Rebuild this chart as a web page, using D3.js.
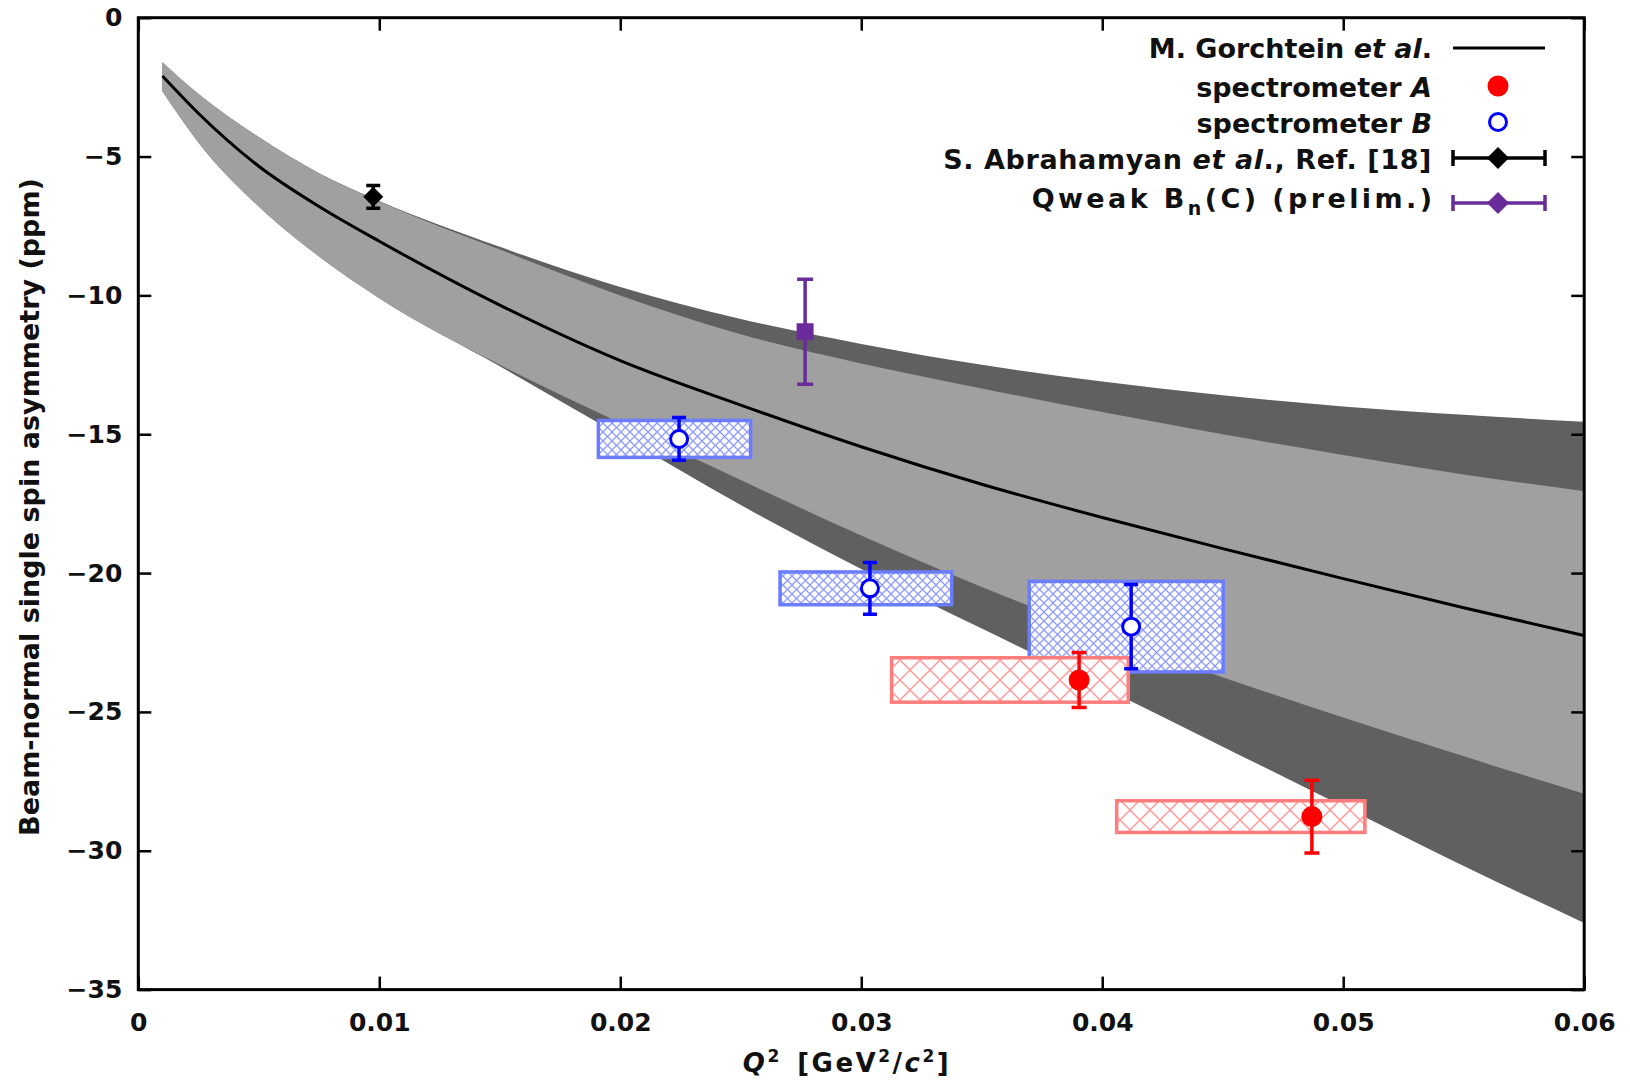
<!DOCTYPE html>
<html>
<head>
<meta charset="utf-8">
<script src="https://cdn.jsdelivr.net/npm/d3@7"></script>
<style>
  body { margin: 0; background: #fff; }
  text { font-family: "DejaVu Sans", sans-serif; font-weight: bold; fill: #111; }
</style>
</head>
<body>
<svg id="chart" width="1630" height="1082"></svg>
<script>
// ---- axis ticks ----
const xTicks = [0, 0.01, 0.02, 0.03, 0.04, 0.05, 0.06];
const yTicks = [0, -5, -10, -15, -20, -25, -30, -35];

// ---- theory prediction (central value and two uncertainty bands) ----
const thQ2        = [0.001, 0.0025, 0.005, 0.0075, 0.01, 0.015, 0.02, 0.025, 0.03, 0.035, 0.04, 0.045, 0.05, 0.055, 0.06];
const thCentral   = [-2.1, -3.45, -5.35, -6.8, -8.05, -10.35, -12.35, -13.95, -15.45, -16.8, -18.0, -19.12, -20.2, -21.25, -22.25];
const thOuterHigh = [-1.6, -2.75, -4.3, -5.6, -6.6, -8.25, -9.7, -10.85, -11.75, -12.5, -13.1, -13.6, -14.0, -14.3, -14.55];
const thInnerHigh = [-1.6, -2.75, -4.3, -5.6, -6.62, -8.35, -10.0, -11.4, -12.45, -13.35, -14.2, -15.0, -15.75, -16.45, -17.05];
const thInnerLow  = [-2.65, -4.5, -6.8, -8.6, -10.1, -12.5, -14.6, -16.65, -18.65, -20.5, -22.2, -23.75, -25.2, -26.6, -27.95];
const thOuterLow  = [-2.65, -4.5, -6.8, -8.6, -10.1, -12.55, -15.05, -17.55, -19.85, -22.0, -24.1, -26.25, -28.4, -30.55, -32.6];

// ---- spectrometer A ----
const aQ2    = [0.03904, 0.0487];
const aBn    = [-23.85, -28.77];
const aStat  = [0.99, 1.31];
const aSys   = [0.80, 0.57];
const aQ2Lo  = [0.03126, 0.0406];
const aQ2Hi  = [0.04108, 0.0509];

// ---- spectrometer B ----
const bQ2    = [0.02244, 0.03036, 0.0412];
const bBn    = [-15.17, -20.55, -21.93];
const bStat  = [0.77, 0.93, 1.52];
const bSys   = [0.665, 0.59, 1.63];
const bQ2Lo  = [0.01909, 0.02663, 0.03697];
const bQ2Hi  = [0.02541, 0.03375, 0.04502];

// ---- other measurements ----
const abrQ2 = [0.00975], abrBn = [-6.45], abrErr = [0.41];
const qwkQ2 = [0.02767], qwkBn = [-11.31], qwkErr = [1.89];

// ---- layout ----
const svg = d3.select("#chart");
const L = 138.3, R = 1584.2, T = 17.7, B = 989.6;
const x = d3.scaleLinear().domain([0, 0.06]).range([L, R]);
const y = d3.scaleLinear().domain([-35, 0]).range([B, T]);

const defs = svg.append("defs");
defs.append("clipPath").attr("id", "plotClip")
  .append("rect").attr("x", L).attr("y", T).attr("width", R - L).attr("height", B - T);

function hatch(id, size, color, width) {
  const p = defs.append("pattern").attr("id", id).attr("patternUnits", "userSpaceOnUse")
    .attr("width", size).attr("height", size);
  p.append("rect").attr("width", size).attr("height", size).attr("fill", "#fff");
  p.append("path").attr("d", `M0,0L${size},${size}M${size},0L0,${size}`)
    .attr("stroke", color).attr("stroke-width", width).attr("fill", "none");
  p.append("path").attr("d", `M${-size/2},${size/2}L${size/2},${-size/2}M${size/2},${size*1.5}L${size*1.5},${size/2}M${-size/2},${size/2}L${size/2},${size*1.5}M${size/2},${-size/2}L${size*1.5},${size/2}`)
    .attr("stroke", color).attr("stroke-width", width).attr("fill", "none");
}
hatch("hatchB", 9, "#8f9cff", 1.3);
hatch("hatchA", 20, "#ff9a9a", 1.5);

const plot = svg.append("g").attr("clip-path", "url(#plotClip)");

// uncertainty bands
const th = thQ2.map((q, i) => ({ q, c: thCentral[i], oh: thOuterHigh[i], ih: thInnerHigh[i], il: thInnerLow[i], ol: thOuterLow[i] }));
const band = (lo, hi) => d3.area().curve(d3.curveMonotoneX)
  .x(d => x(d.q)).y0(d => y(d[lo])).y1(d => y(d[hi]));
plot.append("path").datum(th).attr("d", band("ol", "oh")).attr("fill", "#606060");
plot.append("path").datum(th).attr("d", band("il", "ih")).attr("fill", "#a0a0a0");
plot.append("path").datum(th)
  .attr("d", d3.line().curve(d3.curveMonotoneX).x(d => x(d.q)).y(d => y(d.c)))
  .attr("fill", "none").attr("stroke", "#000").attr("stroke-width", 3);

// systematic boxes
const bRows = bQ2.map((q, i) => ({ q, v: bBn[i], e: bStat[i], s: bSys[i], lo: bQ2Lo[i], hi: bQ2Hi[i] }));
const aRows = aQ2.map((q, i) => ({ q, v: aBn[i], e: aStat[i], s: aSys[i], lo: aQ2Lo[i], hi: aQ2Hi[i] }));

function boxes(rows, fill, stroke) {
  plot.append("g").selectAll("rect").data(rows).join("rect")
    .attr("x", d => x(d.lo)).attr("width", d => x(d.hi) - x(d.lo))
    .attr("y", d => y(d.v + d.s)).attr("height", d => y(d.v - d.s) - y(d.v + d.s))
    .attr("fill", fill).attr("stroke", stroke).attr("stroke-width", 3.5);
}
boxes(bRows, "url(#hatchB)", "#6c7cff");
boxes(aRows, "url(#hatchA)", "#ff7d7d");

// vertical error bars with caps
function errBars(rows, color, cap, w) {
  const g = plot.append("g").attr("stroke", color).attr("stroke-width", w).attr("fill", "none");
  g.selectAll("path").data(rows).join("path")
    .attr("d", d => {
      const cx = x(d.q), y1 = y(d.v + d.e), y2 = y(d.v - d.e);
      return `M${cx},${y1}V${y2}M${cx - cap},${y1}H${cx + cap}M${cx - cap},${y2}H${cx + cap}`;
    });
}
errBars(bRows, "#0000ff", 7, 3.5);
errBars(aRows, "#ff0000", 7.5, 3.5);

const abrRows = abrQ2.map((q, i) => ({ q, v: abrBn[i], e: abrErr[i] }));
const qwkRows = qwkQ2.map((q, i) => ({ q, v: qwkBn[i], e: qwkErr[i] }));
errBars(abrRows, "#000", 7, 3.5);
errBars(qwkRows, "#6a2c9a", 8, 3.5);

// markers
plot.append("g").selectAll("circle").data(aRows).join("circle")
  .attr("cx", d => x(d.q)).attr("cy", d => y(d.v)).attr("r", 10.5).attr("fill", "#ff0000");
plot.append("g").selectAll("circle").data(bRows).join("circle")
  .attr("cx", d => x(d.q)).attr("cy", d => y(d.v)).attr("r", 8.5)
  .attr("fill", "#fff").attr("stroke", "#0000ff").attr("stroke-width", 3);
const diamond = s => `M0,${-s}L${s},0L0,${s}L${-s},0Z`;
plot.append("g").selectAll("path").data(abrRows).join("path")
  .attr("transform", d => `translate(${x(d.q)},${y(d.v)})`).attr("d", diamond(10)).attr("fill", "#000");
plot.append("g").selectAll("rect").data(qwkRows).join("rect")
  .attr("x", d => x(d.q) - 8.5).attr("y", d => y(d.v) - 8.5).attr("width", 17).attr("height", 17)
  .attr("fill", "#6a2c9a");

// ---- axes (ticks pointing inward on all four sides) ----
const fmtX = d => d === 0 ? "0" : d3.format(".2f")(d);
const fmtY = d3.format("d");
const tickLen = 13;
function styleAxis(g) {
  g.select(".domain").remove();
  g.selectAll(".tick line").attr("stroke", "#000").attr("stroke-width", 2.5);
  g.selectAll(".tick text").style("font-size", "25px").attr("fill", "#111")
    .style("font-family", "'DejaVu Sans', sans-serif").style("font-weight", "bold");
}
svg.append("g").attr("transform", `translate(0,${B})`)
  .call(d3.axisBottom(x).tickValues(xTicks).tickFormat(fmtX).tickSizeInner(-tickLen).tickSizeOuter(0).tickPadding(24))
  .call(styleAxis);
svg.append("g").attr("transform", `translate(0,${T})`)
  .call(d3.axisTop(x).tickValues(xTicks).tickFormat("").tickSizeInner(-tickLen).tickSizeOuter(0))
  .call(styleAxis);
svg.append("g").attr("transform", `translate(${L},0)`)
  .call(d3.axisLeft(y).tickValues(yTicks).tickFormat(fmtY).tickSizeInner(-tickLen).tickSizeOuter(0).tickPadding(16))
  .call(styleAxis);
svg.append("g").attr("transform", `translate(${R},0)`)
  .call(d3.axisRight(y).tickValues(yTicks).tickFormat("").tickSizeInner(-tickLen).tickSizeOuter(0))
  .call(styleAxis);

svg.append("rect").attr("x", L).attr("y", T).attr("width", R - L).attr("height", B - T)
  .attr("fill", "none").attr("stroke", "#000").attr("stroke-width", 3);

// axis titles
const xt = svg.append("text").attr("x", 847).attr("y", 1072).attr("text-anchor", "middle")
  .style("font-size", "26px").style("letter-spacing", "2.5px");
xt.append("tspan").attr("font-style", "italic").text("Q");
xt.append("tspan").attr("dy", -10).style("font-size", "17px").text("2");
xt.append("tspan").attr("dy", 10).text("\u2002[GeV");
xt.append("tspan").attr("dy", -10).style("font-size", "17px").text("2");
xt.append("tspan").attr("dy", 10).text("/");
xt.append("tspan").attr("font-style", "italic").text("c");
xt.append("tspan").attr("dy", -10).style("font-size", "17px").text("2");
xt.append("tspan").attr("dy", 10).text("]");

svg.append("text").attr("transform", "translate(39,507) rotate(-90)")
  .attr("text-anchor", "middle").style("font-size", "27px")
  .text("Beam-normal single spin asymmetry (ppm)");

// ---- legend ----
const legX = 1432, symX = 1498, lx1 = 1453, lx2 = 1545;
const leg = svg.append("g").style("font-size", "27px");
function legText(yc, parts, extra) {
  const t = leg.append("text").attr("x", legX).attr("y", yc + 9.5).attr("text-anchor", "end");
  if (extra) extra(t);
  parts.forEach(p => {
    const s = t.append("tspan").text(p.t);
    if (p.i) s.attr("font-style", "italic");
    if (p.sub) s.attr("dy", 7).style("font-size", "19px");
    if (p.back) s.attr("dy", -7);
  });
}
legText(48, [{ t: "M. Gorchtein " }, { t: "et al", i: true }, { t: "." }]);
leg.append("line").attr("x1", lx1).attr("x2", lx2).attr("y1", 48).attr("y2", 48).attr("stroke", "#000").attr("stroke-width", 3);

legText(87, [{ t: "spectrometer " }, { t: "A", i: true }]);
leg.append("circle").attr("cx", symX).attr("cy", 86).attr("r", 10.5).attr("fill", "#ff0000");

legText(123, [{ t: "spectrometer " }, { t: "B", i: true }]);
leg.append("circle").attr("cx", symX).attr("cy", 122).attr("r", 8.5).attr("fill", "#fff").attr("stroke", "#0000ff").attr("stroke-width", 3);

legText(159, [{ t: "S. Abrahamyan " }, { t: "et al", i: true }, { t: "., Ref. [18]" }],
  t => t.style("letter-spacing", "0.6px"));
function legErr(yc, color) {
  leg.append("path").attr("d", `M${lx1},${yc}H${lx2}M${lx1},${yc - 8}V${yc + 8}M${lx2},${yc - 8}V${yc + 8}`)
    .attr("stroke", color).attr("stroke-width", 3.5).attr("fill", "none");
  leg.append("path").attr("transform", `translate(${symX},${yc})`).attr("d", diamond(11)).attr("fill", color);
}
legErr(158, "#000");

legText(198, [{ t: "Qweak B" }, { t: "n", sub: true }, { t: "(C) (prelim.)", back: true }],
  t => t.style("letter-spacing", "3.4px").attr("dx", 3.4));
legErr(203, "#6a2c9a");
</script>
</body>
</html>
